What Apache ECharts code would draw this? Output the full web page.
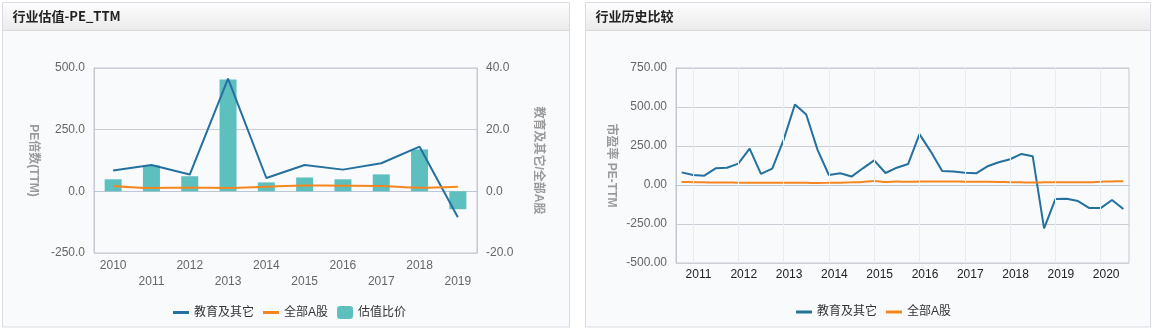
<!DOCTYPE html>
<html>
<head>
<meta charset="utf-8">
<script src="https://cdn.jsdelivr.net/npm/echarts@6/dist/echarts.min.js"></script>
<style>
html,body{margin:0;padding:0;background:#ffffff;}
#c{width:1156px;height:332px;}
</style>
</head>
<body>
<div id="c"></div>
<script>
// ---------- Left chart: 行业估值-PE_TTM ----------
const peYears = ['2010','2011','2012','2013','2014','2015','2016','2017','2018','2019'];
const peEdu   = [84, 107, 68, 457, 54, 107, 88, 114, 181, -105];
const peAllA  = [21.6, 13.5, 14.9, 13.5, 19, 24, 23, 21.6, 15, 19];
const peRatio = [3.9, 8.4, 4.9, 36.3, 2.9, 4.5, 3.9, 5.5, 13.6, -5.8];
const peLeftAxis  = [-250, 500, 250];   // min, max, interval
const peRightAxis = [-20, 40, 20];

// ---------- Right chart: 行业历史比较 ----------
const histQuarters = [
  '2011Q1','2011Q2','2011Q3','2011Q4','2012Q1','2012Q2','2012Q3','2012Q4',
  '2013Q1','2013Q2','2013Q3','2013Q4','2014Q1','2014Q2','2014Q3','2014Q4',
  '2015Q1','2015Q2','2015Q3','2015Q4','2016Q1','2016Q2','2016Q3','2016Q4',
  '2017Q1','2017Q2','2017Q3','2017Q4','2018Q1','2018Q2','2018Q3','2018Q4',
  '2019Q1','2019Q2','2019Q3','2019Q4','2020Q1','2020Q2','2020Q3','2020Q4'
];
const histEdu = [81, 64, 60, 107, 111, 137, 233, 71, 105, 289, 516, 452, 225, 64, 75, 54,
                 107, 158, 77, 111, 135, 326, 214, 90, 86, 79, 75, 120, 146, 165, 199, 184,
                 -278, -90, -88, -103, -148, -148, -96, -154];
const histAllA = [19, 18, 17, 16, 16, 15, 15, 15, 15, 14, 14, 14, 13, 14, 15, 17,
                  20, 26, 19, 22, 21, 22, 22, 22, 23, 21, 21, 21, 20, 18, 17, 16,
                  17, 18, 18, 18, 18, 21, 23, 24];
const histAxis = [-500, 750, 250];
const histYearMarks = [1, 5, 9, 13, 17, 21, 25, 29, 33, 37];

const BLUE = '#24709f', ORANGE = '#f5861f', TEAL = '#5ebfbf';
const FONT = '"Liberation Sans", "Noto Sans CJK SC", sans-serif';
const LABEL = '#666666', AXIS = '#c3c8d0', SPLIT = '#cbced4';
const LINE_ICON = 'path://M0,0 L16,0 L16,3 L0,3 Z';

const chart = echarts.init(document.getElementById('c'), null, {renderer: 'canvas'});

function panel(x, w, title) {
  return [
    {type: 'rect', z: -20, silent: true,
     shape: {x: x, y: 2.5, width: w, height: 324.5},
     style: {fill: '#f9fafc', stroke: '#d9dde3', lineWidth: 1}},
    {type: 'rect', z: -19, silent: true,
     shape: {x: x + 0.5, y: 3, width: w - 1, height: 27},
     style: {fill: new echarts.graphic.LinearGradient(0, 0, 0, 1,
       [{offset: 0, color: '#fdfdfd'}, {offset: 1, color: '#ebebeb'}])}},
    {type: 'line', z: -18, silent: true,
     shape: {x1: x + 0.5, y1: 30.5, x2: x + w - 0.5, y2: 30.5},
     style: {stroke: '#d6d8dc', lineWidth: 1}},
    {type: 'text', z: -17, silent: true, x: x + 10, y: 16.5,
     style: {text: title, font: 'bold 13px "Noto Sans CJK SC", sans-serif', fill: '#222',
             verticalAlign: 'middle'}}
  ];
}

const yName = {color: '#9a9a9a', fontWeight: 'bold', fontSize: 12, fontFamily: FONT};

chart.setOption({
  animation: false,
  textStyle: {fontFamily: FONT},
  graphic: [].concat(panel(2.5, 567, '行业估值-PE_TTM'), panel(585.5, 565, '行业历史比较')),
  grid: [
    {left: 94, right: 679, top: 68, bottom: 79, show: true, borderColor: AXIS, borderWidth: 1,
     backgroundColor: 'transparent'},
    {left: 676, right: 27, top: 68, bottom: 69, show: true, borderColor: AXIS, borderWidth: 1,
     backgroundColor: 'transparent'}
  ],
  legend: [
    {left: 168, top: 301, itemWidth: 16, itemHeight: 13, itemGap: 9,
     data: [{name: '教育及其它', icon: LINE_ICON}, {name: '全部A股', icon: LINE_ICON}, '估值比价'],
     textStyle: {fontSize: 12, color: '#333', fontFamily: FONT}},
    {left: 791, top: 301, itemWidth: 16, itemHeight: 13, itemGap: 9,
     data: [{name: '教育及其它', icon: LINE_ICON}, {name: '全部A股', icon: LINE_ICON}],
     textStyle: {fontSize: 12, color: '#333', fontFamily: FONT}}
  ],
  xAxis: [
    {gridIndex: 0, type: 'category', data: peYears, boundaryGap: true,
     axisLine: {lineStyle: {color: '#bcc6d6'}},
     axisTick: {alignWithLabel: true, interval: 0, length: 5, lineStyle: {color: '#bcc6d6'}},
     axisLabel: {interval: 0, margin: 5, color: LABEL, fontSize: 12, lineHeight: 16,
                 formatter: (v, i) => (i % 2 ? '\n' + v : v)},
     splitLine: {show: false}},
    {gridIndex: 1, type: 'category', data: histQuarters, boundaryGap: true,
     axisLine: {lineStyle: {color: '#bcc6d6'}},
     axisTick: {alignWithLabel: true, interval: (i) => i % 4 === 3, length: 5,
                lineStyle: {color: '#bcc6d6'}},
     axisLabel: {interval: (i) => i % 4 === 1, margin: 6, color: '#222', fontSize: 12,
                 padding: [0, 0, 0, 11], formatter: (v) => v.slice(0, 4)},
     splitLine: {show: false}}
  ],
  yAxis: [
    {gridIndex: 0, type: 'value', min: peLeftAxis[0], max: peLeftAxis[1], interval: peLeftAxis[2],
     name: 'PE倍数(TTM)', nameLocation: 'middle', nameGap: 55, nameRotate: -90, nameTextStyle: yName,
     axisLine: {show: true, lineStyle: {color: AXIS}}, axisTick: {show: false},
     axisLabel: {margin: 9, color: LABEL, fontSize: 12, formatter: (v) => v.toFixed(1)},
     splitLine: {lineStyle: {color: SPLIT}}},
    {gridIndex: 0, type: 'value', position: 'right', min: peRightAxis[0], max: peRightAxis[1],
     interval: peRightAxis[2],
     name: '教育及其它/全部A股', nameLocation: 'middle', nameGap: 55, nameRotate: -90, nameTextStyle: yName,
     axisLine: {show: true, lineStyle: {color: AXIS}}, axisTick: {show: false},
     axisLabel: {margin: 9, color: LABEL, fontSize: 12, formatter: (v) => v.toFixed(1)},
     splitLine: {show: false}},
    {gridIndex: 1, type: 'value', min: histAxis[0], max: histAxis[1], interval: histAxis[2],
     name: '市盈率 PE-TTM', nameLocation: 'middle', nameGap: 59, nameRotate: -90, nameTextStyle: yName,
     axisLine: {show: true, lineStyle: {color: AXIS}}, axisTick: {show: false},
     axisLabel: {margin: 9, color: LABEL, fontSize: 12, formatter: (v) => v.toFixed(2)},
     splitLine: {lineStyle: {color: SPLIT}}}
  ],
  series: [
    {name: '估值比价', type: 'bar', xAxisIndex: 0, yAxisIndex: 1, data: peRatio, barWidth: 17,
     itemStyle: {color: TEAL}, z: 1},
    {name: '教育及其它', type: 'line', xAxisIndex: 0, yAxisIndex: 0, data: peEdu,
     symbol: 'none', lineStyle: {color: BLUE, width: 2}, itemStyle: {color: BLUE}, z: 3},
    {name: '全部A股', type: 'line', xAxisIndex: 0, yAxisIndex: 0, data: peAllA, smooth: 0.3,
     symbol: 'none', lineStyle: {color: ORANGE, width: 2}, itemStyle: {color: ORANGE}, z: 3},
    {name: 'yearMarks', type: 'line', xAxisIndex: 1, yAxisIndex: 2, data: [], z: 0, silent: true,
     markLine: {silent: true, symbol: 'none', label: {show: false},
                lineStyle: {color: '#e9ecf1', width: 1, type: 'solid'},
                data: histYearMarks.map((i) => ({xAxis: i}))}},
    {name: '教育及其它', type: 'line', xAxisIndex: 1, yAxisIndex: 2, data: histEdu,
     symbol: 'none', lineStyle: {color: BLUE, width: 2}, itemStyle: {color: BLUE}, z: 3},
    {name: '全部A股', type: 'line', xAxisIndex: 1, yAxisIndex: 2, data: histAllA, smooth: 0.3,
     symbol: 'none', lineStyle: {color: ORANGE, width: 2}, itemStyle: {color: ORANGE}, z: 3}
  ]
});
</script>
</body>
</html>
